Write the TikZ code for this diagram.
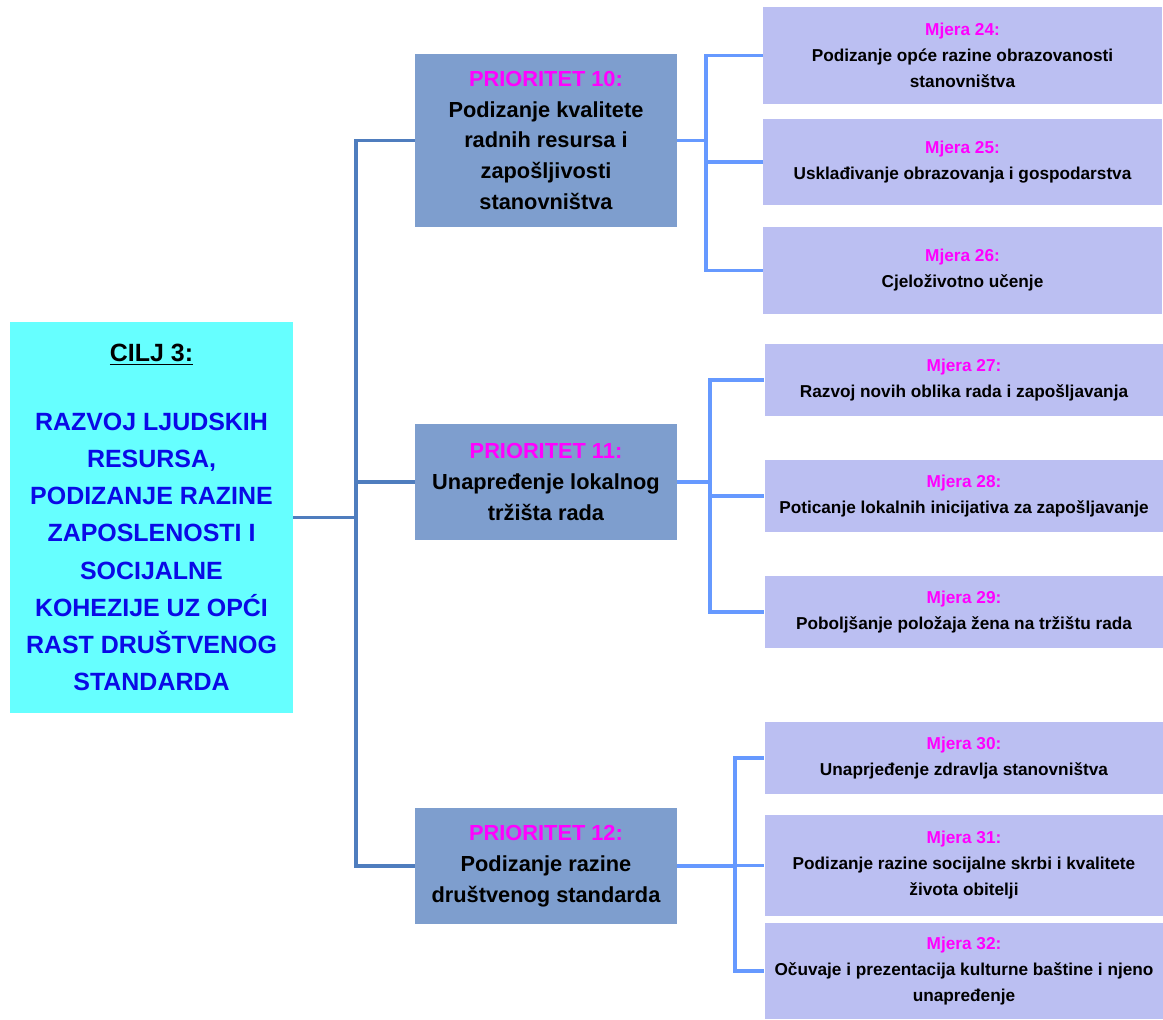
\documentclass[tikz,border=0pt]{standalone}
\usepackage{fontspec}
\setmainfont{Liberation Sans}
\usetikzlibrary{positioning}

\definecolor{ciljfill}{RGB}{102,255,255}
\definecolor{ciljtext}{RGB}{10,10,230}
\definecolor{priofill}{RGB}{126,158,206}
\definecolor{mjerafill}{RGB}{187,191,242}
\definecolor{labelpink}{RGB}{255,0,255}
\definecolor{darkline}{RGB}{79,125,190}
\definecolor{lightline}{RGB}{102,153,255}

\tikzset{
  cilj/.style={fill=ciljfill, text=ciljtext, inner sep=0pt, align=center,
    minimum width=5.66cm, minimum height=7.82cm,
    font=\bfseries\fontsize{14.2}{21.2}\selectfont},
  prio/.style={fill=priofill, inner sep=0pt, align=center,
    minimum width=5.24cm,
    font=\bfseries\fontsize{12.4}{17.6}\selectfont},
  mjera/.style={fill=mjerafill, inner sep=0pt, align=center,
    minimum width=7.98cm,
    font=\bfseries\fontsize{9.8}{14.8}\selectfont},
  trunk/.style={draw=darkline, line width=2.2pt},
  branch/.style={draw=lightline, line width=2.2pt},
}

\begin{document}
\begin{tikzpicture}[x=0.02cm, y=-0.02cm]
  \useasboundingbox (0,0) rectangle (1163,1020);

  % goal
  \node[cilj] (cilj) at (151.5,517.5)
    {\textcolor{black}{\underline{CILJ 3:}}\\[18pt]
     RAZVOJ LJUDSKIH\\RESURSA,\\PODIZANJE RAZINE\\ZAPOSLENOSTI I\\SOCIJALNE\\KOHEZIJE UZ OPĆI\\RAST DRUŠTVENOG\\STANDARDA};

  % priorities
  \node[prio, minimum height=3.46cm] (p10) at (546,140.5)
    {\textcolor{labelpink}{PRIORITET 10:}\\Podizanje kvalitete\\radnih resursa i\\zapošljivosti\\stanovništva};
  \node[prio, minimum height=2.32cm] (p11) at (546,482)
    {\textcolor{labelpink}{PRIORITET 11:}\\Unapređenje lokalnog\\tržišta rada};
  \node[prio, minimum height=2.32cm] (p12) at (546,866)
    {\textcolor{labelpink}{PRIORITET 12:}\\Podizanje razine\\društvenog standarda};

  % measures
  \node[mjera, minimum height=1.94cm] (m24) at (962.5,55.5)
    {\textcolor{labelpink}{Mjera 24:}\\Podizanje opće razine obrazovanosti\\stanovništva};
  \node[mjera, minimum height=1.72cm] (m25) at (962.5,162)
    {\textcolor{labelpink}{Mjera 25:}\\Usklađivanje obrazovanja i gospodarstva};
  \node[mjera, minimum height=1.74cm] (m26) at (962.5,270.5)
    {\textcolor{labelpink}{Mjera 26:}\\Cjeloživotno učenje};
  \node[mjera, minimum height=1.44cm] (m27) at (964,380)
    {\textcolor{labelpink}{Mjera 27:}\\Razvoj novih oblika rada i zapošljavanja};
  \node[mjera, minimum height=1.44cm] (m28) at (964,496)
    {\textcolor{labelpink}{Mjera 28:}\\Poticanje lokalnih inicijativa za zapošljavanje};
  \node[mjera, minimum height=1.44cm] (m29) at (964,612)
    {\textcolor{labelpink}{Mjera 29:}\\Poboljšanje položaja žena na tržištu rada};
  \node[mjera, minimum height=1.44cm] (m30) at (964,758)
    {\textcolor{labelpink}{Mjera 30:}\\Unaprjeđenje zdravlja stanovništva};
  \node[mjera, minimum height=2.02cm] (m31) at (964,865.5)
    {\textcolor{labelpink}{Mjera 31:}\\Podizanje razine socijalne skrbi i kvalitete\\života obitelji};
  \node[mjera, minimum height=1.92cm] (m32) at (964,971)
    {\textcolor{labelpink}{Mjera 32:}\\Očuvaje i prezentacija kulturne baštine i njeno\\unapređenje};

  % goal to priorities
  \coordinate (tl) at (356,517.5);
  \draw[trunk] (cilj.east) -- (tl);
  \draw[trunk] (p10.west) -| (tl) |- (p12.west);
  \draw[trunk] (tl |- p11.west) -- (p11.west);

  % priorities to measures
  \coordinate (r10) at (706,0);
  \coordinate (r11) at (710,0);
  \coordinate (r12) at (735,0);
  \foreach \p/\r/\a/\b/\c in {p10/r10/m24/m25/m26, p11/r11/m27/m28/m29, p12/r12/m30/m31/m32} {
    \draw[branch] (\p.east) -- (\r |- \p.east);
    \draw[branch] (\a.west) -| (\r |- \c.west) -- (\c.west);
    \draw[branch] (\r |- \b.west) -- (\b.west);
  }
\end{tikzpicture}
\end{document}
